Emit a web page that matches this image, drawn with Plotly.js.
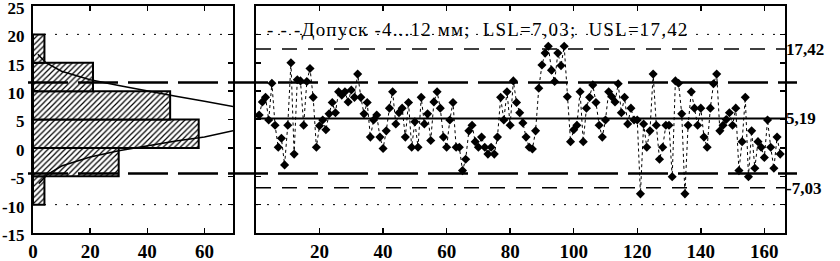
<!DOCTYPE html>
<html><head><meta charset="utf-8">
<script src="https://cdn.plot.ly/plotly-3.0.1.min.js"></script>
<style>html,body{margin:0;padding:0;background:#fff}#chart{width:840px;height:261px}</style>
</head><body><div id="chart"></div>
<script>
// Individual measurements (sample number 1..165)
const samples = [
  5.8, 8.1, 8.9, 4.9, 11.4, 4.0, 0.1, 1.7, -3.0, 4.0, 15.0, -1.1, 12.0, 11.8, 4.0, 11.7, 14.0, 8.9, 0.1, 3.9, 4.9, 3.2, 6.0, 8.0, 6.2, 9.9, 9.3, 9.9,
  8.1, 10.2, 8.9, 13.0, 8.9, 6.0, 8.0, 1.9, 4.9, 5.8, 1.9, -0.1, 3.0, 7.0, 9.9, 4.2, 6.2, 7.0, 1.9, 8.0, 0.1, 4.6, 0.1, 8.9, 4.2, 6.0, 1.3, 8.1,
  9.9, 7.0, 1.9, 0.1, 4.9, 8.0, 0.1, 0.1, -4.0, -2.0, 3.0, 4.0, 1.1, 0.1, 1.9, 0.1, -1.1, 0.1, -1.1, 1.9, 8.9, 4.9, 9.9, 4.0, 11.8, 8.0, 6.2,
  4.4, 1.9, 0.1, -0.2, 3.0, 10.5, 14.6, 16.7, 17.9, 13.7, 11.7, 16.7, 14.5, 17.9, 9.0, 1.1, 3.2, 4.0, 9.9, 1.1, 7.0, 8.9, 11.1, 8.0, 4.0, 1.9, 4.9, 9.9,
  9.0, 8.1, 11.3, 6.2, 8.9, 4.2, 7.0, 4.9, 4.9, -8.1, 4.2, 0.1, 3.0, 13.0, 4.0, -2.0, 0.1, 4.0, 4.0, -5.1, 11.8, 11.4, 6.0, -8.1, 4.0, 9.9, 7.0, 4.0,
  7.0, 1.9, 0.1, 7.0, 11.3, 13.0, 3.0, 4.0, 5.0, 6.2, 4.0, 7.0, -4.0, 1.1, 8.9, -5.1, 3.0, -3.6, 1.1, 0.1, -1.7, 4.9, 0.1, -3.6, 1.9, -1.1
];
const sampleNumbers = samples.map((_, i) => i + 1);

// Histogram (frequency per 5 mm bin)
const histBinCenters = [-7.5, -2.5, 2.5, 7.5, 12.5, 17.5];
const histCounts = [4, 30, 58, 48, 21, 4];
const histBinWidth = 5;

// Fitted normal curve (count, value)
const curveUpperCount = [1.7, 4.5, 10, 20, 30, 40, 50, 60, 70];
const curveUpperValue = [16.5, 15.0, 13.5, 12.0, 11.0, 10.0, 9.1, 8.2, 7.3];
const curveLowerCount = [70, 60, 50, 40, 30, 20, 10, 5, 2];
const curveLowerValue = [3.0, 1.9, 1.2, 0.4, -0.5, -1.6, -3.2, -4.7, -6.3];

// Control values
const meanValue = 5.19, lslValue = -7.03, uslValue = 17.42;
const tolLow = -4.5, tolHigh = 11.5;
const rightTickVals = [17.42, 5.19, -7.03];
const rightTickText = ['17,42', '5,19', '-7,03'];
const valueTickVals = [-15, -10, -5, 0, 5, 10, 15, 20, 25];
const valueTickText = ['-15', '-10', '-5', '0', '5', '10', '15', '20', '25'];
const histTicks = [0, 20, 40, 60];
const sampleTicks = [20, 40, 60, 80, 100, 120, 140, 160];
const legendText = '- - -Допуск -4...12 мм;  LSL=7,03;  USL=17,42';

const W = 840, H = 261;
const FONT = 'Liberation Serif, Times New Roman, serif';
const TICKFONT = {family: FONT, size: 19, color: 'black', weight: 'bold'};

const traces = [
  {type: 'bar', orientation: 'h', x: histCounts, y: histBinCenters, width: histBinWidth,
   xaxis: 'x', yaxis: 'y', hoverinfo: 'skip',
   marker: {color: 'white', line: {color: 'black', width: 2},
            pattern: {shape: '/', fgcolor: 'black', bgcolor: 'white', size: 4, solidity: 0.3}}},
  {type: 'scatter', mode: 'lines', x: curveUpperCount, y: curveUpperValue, xaxis: 'x', yaxis: 'y',
   line: {color: 'black', width: 1.5}, hoverinfo: 'skip'},
  {type: 'scatter', mode: 'lines', x: curveLowerCount, y: curveLowerValue, xaxis: 'x', yaxis: 'y',
   line: {color: 'black', width: 1.5}, hoverinfo: 'skip'},
  {type: 'scatter', mode: 'lines+markers', x: sampleNumbers, y: samples, xaxis: 'x2', yaxis: 'y2',
   line: {color: 'black', width: 1, dash: 'dot'},
   marker: {symbol: 'diamond', size: 7, color: 'black'}, hoverinfo: 'skip'},
  {type: 'scatter', mode: 'markers', x: [0], y: [meanValue], xaxis: 'x2', yaxis: 'y3',
   marker: {opacity: 0}, hoverinfo: 'skip'}
];

const plotTop = 6, plotBottom = 233;
const yDomain = [(H - plotBottom) / H, (H - plotTop) / H];
const axisCommon = {showline: true, linecolor: 'black', linewidth: 2, mirror: 'ticks',
  ticks: 'inside', ticklen: 5, tickwidth: 1.5, tickcolor: 'black', tickfont: TICKFONT,
  ticklabeloverflow: 'allow', showgrid: false, zeroline: false, fixedrange: true};

function hline(xref, yref, x0, x1, y, dash, width) {
  return {type: 'line', xref: xref, yref: yref, x0: x0, x1: x1, y0: y, y1: y,
          line: {color: 'black', width: width, dash: dash}, layer: 'above'};
}

const shapes = [
  hline('x', 'y', 0, 70, 20, '2px,9px', 1),
  hline('x', 'y', 0, 70, -10, '2px,9px', 1),
  hline('x2', 'y2', 0, 166.5, 20, '2px,9px', 1),
  hline('x2', 'y2', 0, 166.5, -10, '2px,9px', 1),
  hline('paper', 'y', 28 / W, 797 / W, tolHigh, '40px,10px', 2.5),
  hline('paper', 'y', 28 / W, 797 / W, tolLow, '40px,10px', 2.5),
  hline('x2', 'y2', 0, 166.5, uslValue, '15px,11px', 1.5),
  hline('x2', 'y2', 0, 166.5, lslValue, '15px,11px', 1.5),
  hline('x2', 'y2', 0, 166.5, meanValue, 'solid', 2)
];

const layout = {
  width: W, height: H,
  margin: {l: 0, r: 0, t: 0, b: 0, pad: 0},
  paper_bgcolor: 'white', plot_bgcolor: 'white',
  showlegend: false, bargap: 0,
  font: {family: FONT, size: 19, color: 'black'},
  xaxis: Object.assign({}, axisCommon, {domain: [33 / W, 233 / W], range: [0, 70], tickvals: histTicks, anchor: 'y'}),
  yaxis: Object.assign({}, axisCommon, {domain: yDomain, range: [-15, 25], tickvals: valueTickVals, ticktext: valueTickText,
           tickfont: {family: FONT, size: 17, color: 'black', weight: 'bold'}, ticklabelstandoff: 3, ticklabelshift: 2, anchor: 'x'}),
  xaxis2: Object.assign({}, axisCommon, {domain: [256 / W, 785 / W], range: [0, 166.5], tickvals: sampleTicks, anchor: 'y2'}),
  yaxis2: Object.assign({}, axisCommon, {domain: yDomain, range: [-15, 25], tickvals: valueTickVals, showticklabels: false, anchor: 'x2'}),
  yaxis3: {overlaying: 'y2', anchor: 'x2', side: 'right', range: [-15, 25], tickvals: rightTickVals, ticktext: rightTickText,
           tickfont: {family: FONT, size: 17, color: 'black', weight: 'bold'}, ticklabeloverflow: 'allow',
           ticks: '', showline: false, showgrid: false, zeroline: false, fixedrange: true},
  shapes: shapes,
  annotations: [
    {xref: 'paper', yref: 'paper', x: 292 / W, y: 1 - 29 / H, xanchor: 'left', yanchor: 'middle',
     text: legendText, showarrow: false, font: {family: FONT, size: 19, color: 'black'}}
  ]
};

Plotly.newPlot('chart', traces, layout, {staticPlot: true, displayModeBar: false}).then(function () {
  document.querySelectorAll('#chart .annotation-text').forEach(function (el) {
    el.style.letterSpacing = '1.2px';
    el.style.whiteSpace = 'pre';
  });
});
</script>
</body></html>
